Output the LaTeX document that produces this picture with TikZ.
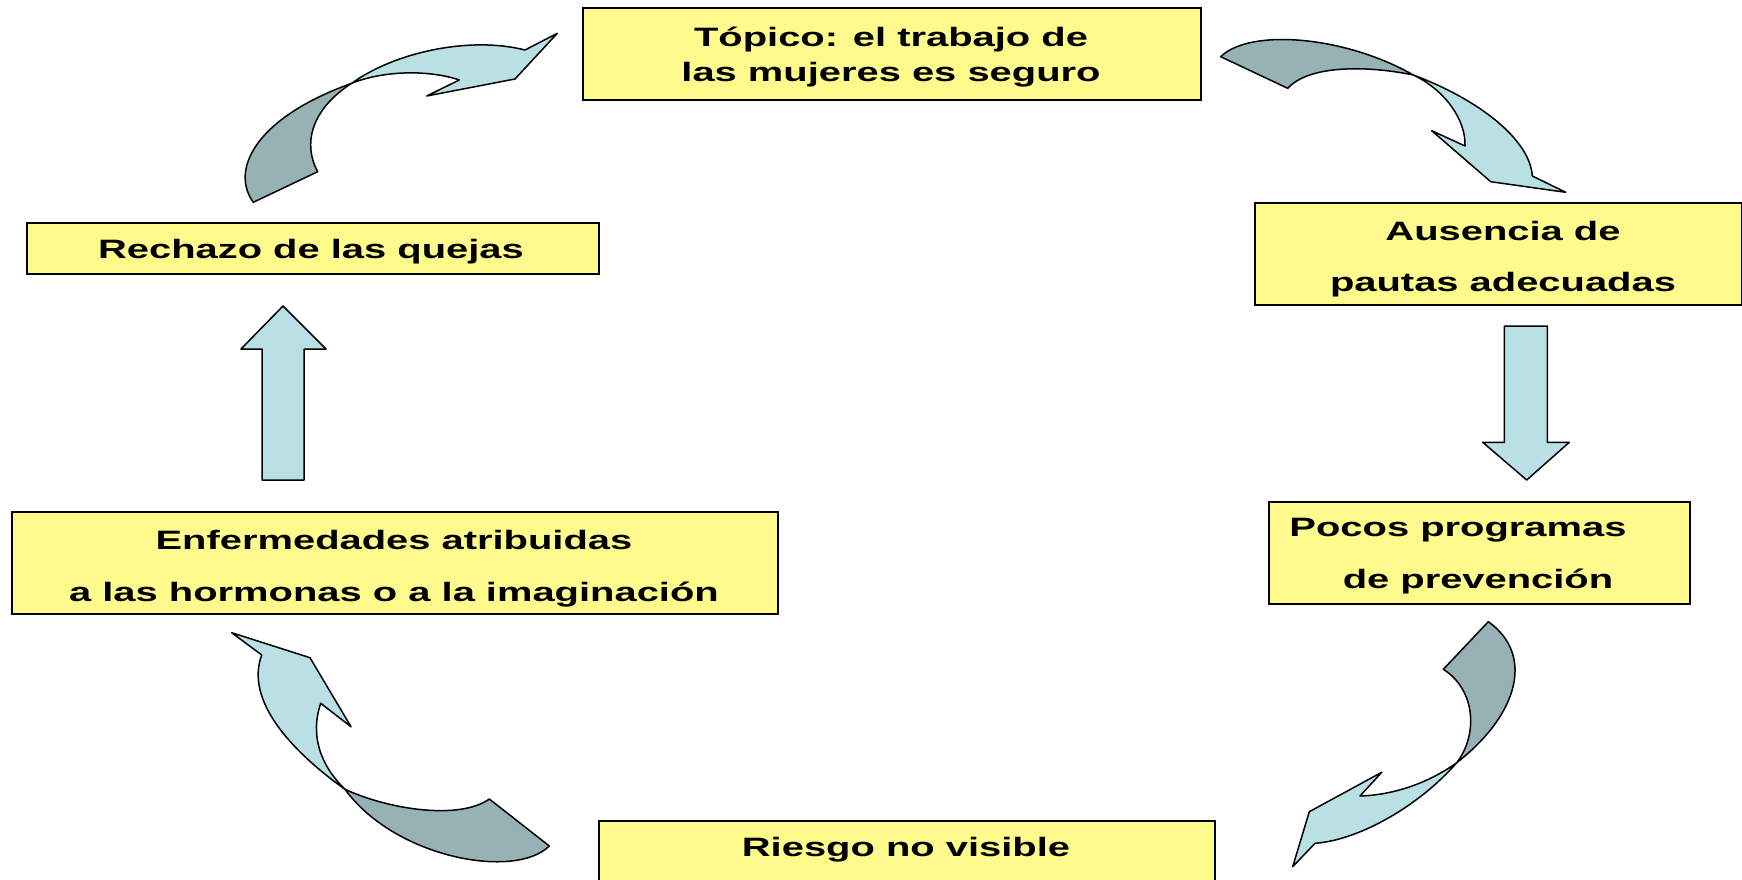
\documentclass[tikz,border=0pt]{standalone}
\usepackage{fontspec}
\setmainfont{Liberation Sans}[FakeStretch=1.5]
\definecolor{boxyellow}{RGB}{255,250,140}
\definecolor{arrowlight}{RGB}{185,224,228}
\definecolor{arrowdark}{RGB}{150,178,181}
\tikzset{
  boxnode/.style={draw=black, line width=1.8pt, fill=boxyellow, rectangle, inner sep=0pt, anchor=north west},
  txt/.style={anchor=base, inner sep=0pt, font=\fontsize{26.6}{32}\selectfont\bfseries},
  lightpart/.style={fill=arrowlight, draw=black, line width=1.5pt, line join=round},
  darkpart/.style={fill=arrowdark, draw=black, line width=1.5pt, line join=round}
}
\begin{document}
\begin{tikzpicture}[x=1pt, y=-1pt]
\useasboundingbox (0,0) rectangle (1742,880);
\fill[white] (0,0) rectangle (1742,880);

% boxes
\node[boxnode, minimum width=618pt, minimum height=92pt] (topico) at (582,7) {};
\node[boxnode, minimum width=487pt, minimum height=102pt] (ausencia) at (1254,202) {};
\node[boxnode, minimum width=421pt, minimum height=102pt] (pocos) at (1268,501) {};
\node[boxnode, minimum width=616pt, minimum height=70pt] (riesgo) at (598,820) {};
\node[boxnode, minimum width=766pt, minimum height=102pt] (enferm) at (11,511) {};
\node[boxnode, minimum width=572pt, minimum height=51pt] (rechazo) at (26,222) {};

% texts
\node[txt] (t1a) at (891,47) {Tópico: el trabajo de};
\node[txt] (t1b) at (891,82) {las mujeres es seguro};
\node[txt] (t2a) at (1503,240) {Ausencia de};
\node[txt] (t2b) at (1503,291) {pautas adecuadas};
\node[txt] (t3a) at (1458,536) {Pocos programas};
\node[txt] (t3b) at (1478,588) {de prevención};
\node[txt] (t4) at (906,856) {Riesgo no visible};
\node[txt] (t5a) at (394,549) {Enfermedades atribuidas};
\node[txt] (t5b) at (394,601) {a las hormonas o a la imaginación};
\node[txt] (t6) at (311,258) {Rechazo de las quejas};

% straight block arrows
\draw[lightpart] (283,306) -- (326,349) -- (304,349) -- (304,480) -- (262,480) -- (262,349) -- (241,349) -- cycle;
\draw[lightpart] (1526.7,480) -- (1569.3,442.3) -- (1547.3,442.3) -- (1547.3,326) -- (1504.3,326) -- (1504.3,442.3) -- (1482.7,442.3) -- cycle;

% curved arrow 1 (Rechazo -> Topico)
\coordinate (c1) at (351.7,83.3);
\draw[darkpart] (253.3,202.3) -- (317.7,171.7)
  .. controls (303,145) and (310,110) .. (c1)
  .. controls (255,118) and (230,170) .. (253.3,202.3) -- cycle;
\draw[lightpart] (c1)
  .. controls (395,52) and (470,36) .. (525,50)
  -- (557.3,33.3) -- (515,79) -- (426.7,96) -- (459.3,80)
  .. controls (430,70) and (385,70) .. (c1) -- cycle;

% curved arrow 2 (Topico -> Ausencia)
\coordinate (c2) at (1413.3,75);
\draw[darkpart] (1220.7,56.7)
  .. controls (1250,28) and (1345,36) .. (c2)
  .. controls (1370,66) and (1310,64) .. (1287.7,88.3) -- cycle;
\draw[lightpart] (c2)
  .. controls (1480,100) and (1530,140) .. (1532.3,176)
  -- (1565.7,192.3) -- (1490.7,181.7) -- (1431.7,130.7) -- (1465,146)
  .. controls (1466,120) and (1445,90) .. (c2) -- cycle;

% curved arrow 3 (Pocos -> Riesgo)
\coordinate (c3) at (1456.7,762.7);
\draw[darkpart] (1488.3,621.7)
  .. controls (1535,655) and (1518,715) .. (c3)
  .. controls (1478,735) and (1476,690) .. (1443.3,669.3) -- cycle;
\draw[lightpart] (c3)
  .. controls (1420,805) and (1360,840) .. (1315,843.3)
  -- (1292.7,866.7) -- (1309.3,811.7) -- (1381.7,772.3) -- (1360,796)
  .. controls (1395,795) and (1430,782) .. (c3) -- cycle;

% curved arrow 4 (Riesgo -> Enfermedades)
\coordinate (c4) at (345,789.3);
\draw[darkpart] (489.3,799) -- (549.3,846)
  .. controls (515,880) and (395,858) .. (c4)
  .. controls (390,810) and (460,820) .. (489.3,799) -- cycle;
\draw[lightpart] (c4)
  .. controls (290,750) and (245,700) .. (261.7,655)
  -- (231.7,632.7) -- (310,657.7) -- (351,726.7) -- (320.7,703.3)
  .. controls (310,735) and (320,765) .. (c4) -- cycle;
\end{tikzpicture}
\end{document}
